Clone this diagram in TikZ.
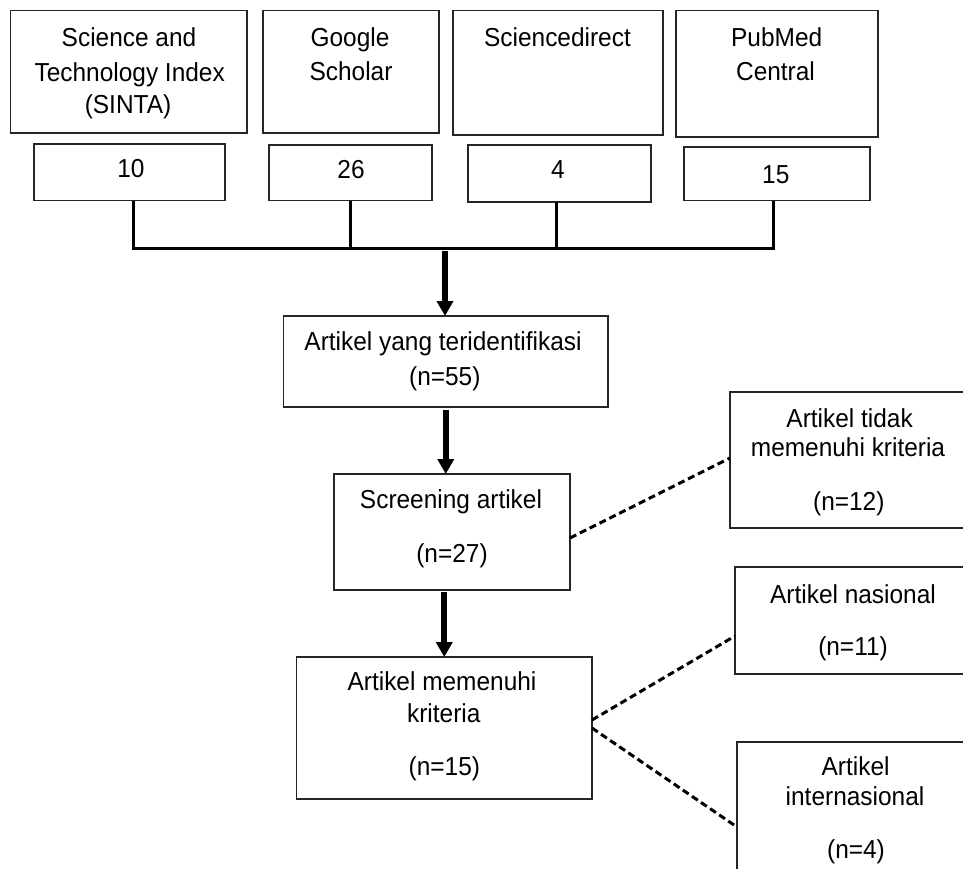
\documentclass[tikz,border=0pt]{standalone}
\usepackage{fontspec}
\setmainfont{Liberation Sans}[FakeStretch=0.94]
\usetikzlibrary{arrows.meta}
\begin{document}
\begin{tikzpicture}[x=1pt,y=-1pt,
  box/.style={draw=black!85, line width=1.4pt, rectangle, inner sep=0pt, outer sep=0pt},
  lbl/.style={anchor=base, inner sep=0pt, outer sep=0pt, font=\fontsize{26}{30}\selectfont},
  tree/.style={line width=3pt, black},
  flow/.style={line width=6pt, black, -{Triangle[width=16pt,length=15pt]}},
  skipline/.style={line width=3pt, black, dash pattern=on 7pt off 4pt}]
\useasboundingbox[fill=white] (0,0) rectangle (963,868);
\clip (0,0) rectangle (963,868);

% source boxes
\node[box, minimum width=236.3pt, minimum height=122.3pt] (sinta) at (128.8,71.8) {};
\node[box, minimum width=176pt, minimum height=122.3pt] (google) at (351,71.8) {};
\node[box, minimum width=210pt, minimum height=124.3pt] (sdirect) at (558,72.8) {};
\node[box, minimum width=202pt, minimum height=126.3pt] (pubmed) at (777,73.8) {};

% count boxes
\node[box, minimum width=191pt, minimum height=56.7pt] (n10) at (129.5,172.3) {};
\node[box, minimum width=163pt, minimum height=55.7pt] (n26) at (350.5,172.8) {};
\node[box, minimum width=183pt, minimum height=57pt] (n4) at (559.5,173.5) {};
\node[box, minimum width=186pt, minimum height=53.7pt] (n15) at (777,173.8) {};

% flow boxes
\node[box, minimum width=324.5pt, minimum height=91pt] (ident) at (445.75,361.5) {};
\node[box, minimum width=236pt, minimum height=116pt] (screen) at (452,532) {};
\node[box, minimum width=295.5pt, minimum height=142pt] (meet) at (444.25,728) {};
\node[box, minimum width=236pt, minimum height=136pt] (notmeet) at (848,460) {};
\node[box, minimum width=236pt, minimum height=107pt] (nas) at (853,620.5) {};
\node[box, minimum width=236pt, minimum height=148pt] (intl) at (855,816) {};

% labels
\node[lbl] (tS1) at (129,46) {Science and};
\node[lbl] (tS2) at (129.7,81) {Technology Index};
\node[lbl] (tS3) at (128,113) {(SINTA)};
\node[lbl] (tG1) at (350,46) {Google};
\node[lbl] (tG2) at (351,80) {Scholar};
\node[lbl] (tD1) at (557.5,46) {Sciencedirect};
\node[lbl] (tP1) at (776.7,46) {PubMed};
\node[lbl] (tP2) at (775.5,80) {Central};
\node[lbl] (t10) at (131,177) {10};
\node[lbl] (t26) at (351,178) {26};
\node[lbl] (t4) at (558,178) {4};
\node[lbl] (t15) at (775.8,183) {15};

\node[lbl] (tI1) at (443,350) {Artikel yang teridentifikasi};
\node[lbl] (tI2) at (444.8,385) {(n=55)};
\node[lbl] (tC1) at (451,508) {Screening artikel};
\node[lbl] (tC2) at (452,562) {(n=27)};
\node[lbl] (tM1) at (442,690) {Artikel memenuhi};
\node[lbl] (tM2) at (443.8,722) {kriteria};
\node[lbl] (tM3) at (444.4,775) {(n=15)};
\node[lbl] (tX1) at (849.6,427) {Artikel tidak};
\node[lbl] (tX2) at (848,456) {memenuhi kriteria};
\node[lbl] (tX3) at (848.8,510) {(n=12)};
\node[lbl] (tN1) at (853,603) {Artikel nasional};
\node[lbl] (tN2) at (853,655) {(n=11)};
\node[lbl] (tL1) at (855.6,775) {Artikel};
\node[lbl] (tL2) at (855,805) {internasional};
\node[lbl] (tL3) at (856,858) {(n=4)};

% bus
\coordinate (busL) at (133,248);
\coordinate (busR) at (773,248);
\coordinate (arrTop) at (445,251);
\draw[tree] ([xshift=3.5pt]n10.south) -- (busL) -- (busR) -- ([xshift=-4pt]n15.south);
\draw[tree] (n26.south) -- (n26.south |- busL);
\draw[tree] ([xshift=-3.5pt]n4.south) -- ([xshift=-3.5pt]n4.south |- busL);

% flow arrows
\draw[flow] (arrTop) -- (arrTop |- ident.north);
\draw[flow] ([yshift=-3pt]ident.south) -- (ident.south |- screen.north);
\draw[flow] ([yshift=-2pt]screen.south -| meet.north) -- (meet.north);

% dashed branches
\draw[skipline] ([yshift=-6pt]screen.east) -- ([yshift=2pt]notmeet.west);
\draw[skipline] ([yshift=8pt]meet.east) -- ([yshift=-15.5pt]nas.west);
\draw[skipline] (meet.east) -- ([yshift=-11pt]intl.west);
\end{tikzpicture}
\end{document}
